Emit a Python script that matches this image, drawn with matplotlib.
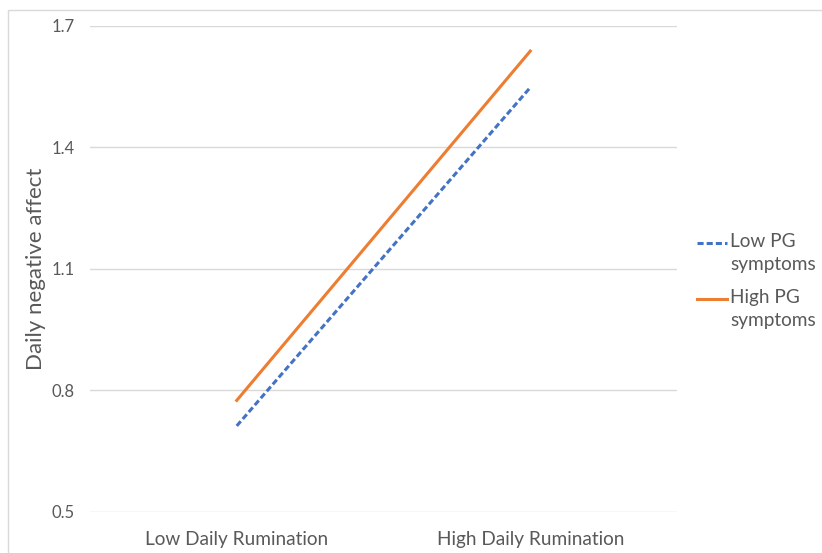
import matplotlib.pyplot as plt
from matplotlib.lines import Line2D
from matplotlib.patches import Rectangle

# data
categories = ['Low Daily Rumination', 'High Daily Rumination']
low_pg = [0.712, 1.548]
high_pg = [0.775, 1.638]
series_names = ['Low PG\nsymptoms', 'High PG\nsymptoms']
yticks = [0.5, 0.8, 1.1, 1.4, 1.7]

blue = '#4472C4'
orange = '#ED7D31'
txt = '#595959'
grid = '#D9D9D9'

plt.rcParams['font.family'] = ['Lato', 'DejaVu Sans']

fig = plt.figure(figsize=(8.22, 5.53), dpi=100)
ax = fig.add_axes([90/822, 1 - 511.7/553, (677-90)/822, (511.7-26)/553])

x = [0, 1]
ax.plot(x, low_pg, color=blue, lw=2.2, linestyle=(0, (2, 1)))
ax.plot(x, high_pg, color=orange, lw=2.2)

ax.set_xlim(-0.5, 1.5)
ax.set_ylim(0.5, 1.7)
ax.set_xticks(x)
ax.set_xticklabels(categories, fontsize=13.7, color=txt)
ax.set_yticks(yticks)
ax.set_yticklabels([f'{v:.1f}' for v in yticks], fontsize=12, color=txt)
ax.tick_params(axis='both', length=0)
ax.tick_params(axis='x', pad=14)
ax.tick_params(axis='y', pad=11)
ax.grid(axis='y', color=grid, lw=1)
for s in ax.spines.values():
    s.set_visible(False)
ax.set_ylabel('Daily negative affect', fontsize=16, color=txt, labelpad=4)

# legend, drawn by hand so the handle sits on the first line of text
handles_y = [243/553, 299/553]
styles = [dict(color=blue, linestyle=(0, (2, 1))), dict(color=orange)]
for name, yy, st in zip(series_names, handles_y, styles):
    fig.add_artist(Line2D([697/822, 727/822], [1 - yy, 1 - yy], lw=2.2,
                          transform=fig.transFigure, **st))
    fig.text(730/822, 1 - yy + 10/553, name, fontsize=13.7, color=txt,
             va='top', ha='left', linespacing=1.45,
             transform=fig.transFigure)

# light chart border
fig.add_artist(Rectangle((8/822, -0.1), 1.2, 1 - 10/553 + 0.1,
                         transform=fig.transFigure, fill=False,
                         edgecolor='#D9D9D9', lw=1))

fig.savefig('out.png', dpi=100)
